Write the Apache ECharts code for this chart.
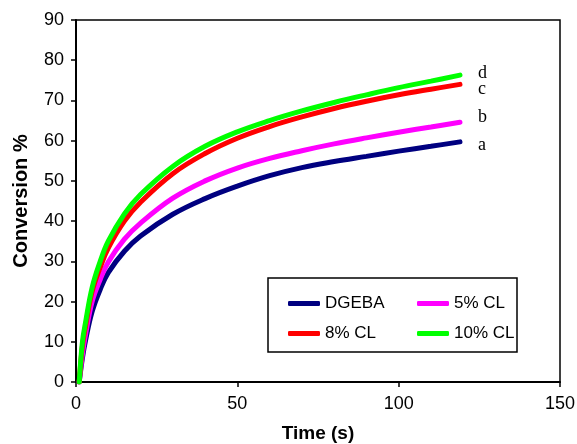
<!DOCTYPE html>
<html>
<head>
<meta charset="utf-8">
<script src="https://cdn.jsdelivr.net/npm/echarts@6/dist/echarts.min.js"></script>
<style>
  html, body { margin: 0; padding: 0; background: #fff; }
  #chart { width: 577px; height: 444px; }
</style>
</head>
<body>
<div id="chart"></div>
<script>
// time (s)
const times = [1, 2, 3, 5, 7.5, 10, 15, 20, 30, 40, 50, 60, 70, 80, 90, 100, 110, 119];

// conversion % for each resin
const dgeba = [0, 6, 10.5, 17.5, 23, 27.2, 32.5, 36.3, 41.7, 45.6, 48.7, 51.3, 53.3, 54.8, 56.1, 57.4, 58.6, 59.7];
const cl5 = [0, 7, 12, 20, 25.5, 29.8, 35.5, 39.5, 45.7, 50, 53.2, 55.6, 57.5, 59.2, 60.7, 62.1, 63.4, 64.6];
const cl8 = [0, 9, 14, 22.5, 28.5, 33.3, 40, 44.7, 51.8, 56.8, 60.6, 63.5, 65.9, 68.0, 69.8, 71.4, 72.8, 74.0];
const cl10 = [0, 10, 15, 23.5, 30, 35, 41.8, 46.6, 53.6, 58.6, 62.2, 65.0, 67.4, 69.5, 71.4, 73.2, 74.8, 76.3];

const seriesNames = ['DGEBA', '5% CL', '8% CL', '10% CL'];
const curveTags = ['a', 'b', 'c', 'd'];

function pairs(ys) {
    return times.map((t, i) => [t, ys[i]]);
}

const colors = ['#000080', '#ff00ff', '#ff0000', '#00ff00'];
const tagOffsets = [[10, 3], [10, -5], [10, 5], [10, -2]];

const chart = echarts.init(document.getElementById('chart'));

const series = [dgeba, cl5, cl8, cl10].map((ys, i) => ({
    name: seriesNames[i],
    type: 'line',
    data: pairs(ys),
    smooth: 0.4,
    symbol: 'none',
    lineStyle: { width: 5, color: colors[i], cap: 'round' },
    itemStyle: { color: colors[i] },
    endLabel: {
        show: true,
        formatter: curveTags[i],
        fontFamily: 'Liberation Serif',
        fontSize: 18,
        color: '#000',
        offset: tagOffsets[i]
    }
}));

const legendText = { fontFamily: 'Liberation Sans', fontSize: 17, color: '#000' };

chart.setOption({
    animation: false,
    grid: {
        left: 76, right: 17, top: 20, bottom: 62,
        outerBoundsMode: 'none',
        containLabel: false,
        show: true, borderColor: '#000', borderWidth: 1.5
    },
    xAxis: {
        type: 'value',
        min: 0, max: 150, interval: 50,
        name: 'Time (s)',
        nameLocation: 'middle',
        nameGap: 42,
        nameTextStyle: { fontFamily: 'Liberation Sans', fontSize: 19, fontWeight: 'bold', color: '#000' },
        axisLine: { lineStyle: { color: '#000', width: 2 } },
        axisTick: { show: true, length: 5, lineStyle: { color: '#000', width: 1.5 } },
        axisLabel: { fontFamily: 'Liberation Sans', fontSize: 18, color: '#000', margin: 13 },
        splitLine: { show: false }
    },
    yAxis: {
        type: 'value',
        min: 0, max: 90, interval: 10,
        name: 'Conversion %',
        nameLocation: 'middle',
        nameGap: 45,
        nameTextStyle: { fontFamily: 'Liberation Sans', fontSize: 20, fontWeight: 'bold', color: '#000' },
        axisLine: { lineStyle: { color: '#000', width: 2 } },
        axisTick: { show: true, length: 5, lineStyle: { color: '#000', width: 1.5 } },
        axisLabel: { fontFamily: 'Liberation Sans', fontSize: 18, color: '#000', margin: 12 },
        splitLine: { show: false }
    },
    legend: [
        {
            data: ['DGEBA', '8% CL'],
            orient: 'vertical',
            left: 283, top: 290,
            itemWidth: 32, itemHeight: 5, itemGap: 13,
            icon: 'roundRect',
            textStyle: legendText
        },
        {
            data: ['5% CL', '10% CL'],
            orient: 'vertical',
            left: 412, top: 290,
            itemWidth: 32, itemHeight: 5, itemGap: 13,
            icon: 'roundRect',
            textStyle: legendText
        }
    ],
    graphic: [{
        type: 'rect',
        shape: { x: 268, y: 278, width: 249, height: 74 },
        style: { fill: 'none', stroke: '#000', lineWidth: 1.5 },
        z: 100
    }],
    series: series
});
</script>
</body>
</html>
